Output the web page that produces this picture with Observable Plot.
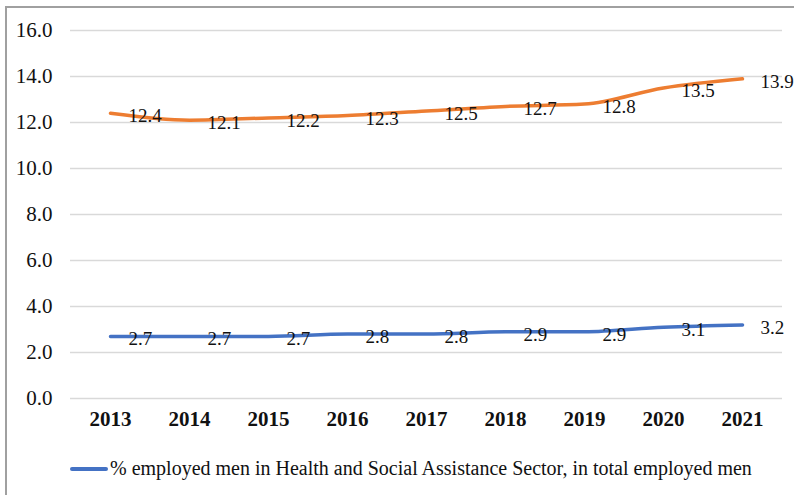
<!DOCTYPE html>
<html>
<head>
<meta charset="utf-8">
<script src="https://cdn.jsdelivr.net/npm/d3@7"></script>
<script src="https://cdn.jsdelivr.net/npm/@observablehq/plot@0.6"></script>
<style>
  html, body { margin: 0; padding: 0; background: #fff; }
  #wrap { position: relative; width: 794px; height: 495px; overflow: hidden; font-family: "Liberation Serif", "Times New Roman", serif; }
  #frame { position: absolute; left: 5px; top: 6px; right: -10px; bottom: -10px; border-left: 2px solid #a0a0a0; border-top: 2px solid #a0a0a0; }
  #chart { position: absolute; left: 0; top: 0; }
  #legend { position: absolute; left: 70px; top: 457px; display: flex; align-items: center; font-size: 20px; color: #111; white-space: nowrap; }
  #legend .sw { width: 38px; height: 4px; background: #4472C4; margin-right: 2px; border-radius: 2px; }
</style>
</head>
<body>
<div id="wrap">
  <div id="frame"></div>
  <div id="chart"></div>
  <div id="legend"><span class="sw"></span><span>% employed men in Health and Social Assistance Sector, in total employed men</span></div>
</div>
<script>
const years = ["2013","2014","2015","2016","2017","2018","2019","2020","2021"];
const womenValues = [12.4, 12.1, 12.2, 12.3, 12.5, 12.7, 12.8, 13.5, 13.9];
const menValues = [2.7, 2.7, 2.7, 2.8, 2.8, 2.9, 2.9, 3.1, 3.2];
const yTicks = [0, 2, 4, 6, 8, 10, 12, 14, 16];

const women = years.map((y, i) => ({year: y, value: womenValues[i]}));
const men = years.map((y, i) => ({year: y, value: menValues[i]}));

const chart = Plot.plot({
  width: 794,
  height: 440,
  marginLeft: 70,
  marginRight: 12,
  marginTop: 30,
  marginBottom: 42,
  style: {fontFamily: "'Liberation Serif', 'Times New Roman', serif", background: "transparent", color: "#111", overflow: "visible"},
  x: {type: "point", domain: years, padding: 0.5, label: null},
  y: {domain: [0, 16], label: null},
  marks: [
    Plot.gridY(yTicks, {stroke: "#d9d9d9", strokeOpacity: 1, strokeWidth: 1.3}),
    Plot.axisY(yTicks, {tickSize: 0, tickPadding: 18, tickFormat: d3.format(".1f"), fontSize: 21, label: null}),
    Plot.axisX(years, {tickSize: 0, tickPadding: 13, fontSize: 21, fontWeight: "bold", label: null}),
    Plot.line(women, {x: "year", y: "value", stroke: "#ED7D31", strokeWidth: 3.5, curve: "monotone-x"}),
    Plot.line(men, {x: "year", y: "value", stroke: "#4472C4", strokeWidth: 3.5, curve: "monotone-x"}),
    Plot.text(women, {x: "year", y: "value", text: d => d.value.toFixed(1), textAnchor: "start", dx: 18, dy: 3, fontSize: 19, fill: "#111"}),
    Plot.text(men, {x: "year", y: "value", text: d => d.value.toFixed(1), textAnchor: "start", dx: 18, dy: 3, fontSize: 19, fill: "#111"})
  ]
});
document.getElementById("chart").appendChild(chart);
</script>
</body>
</html>
